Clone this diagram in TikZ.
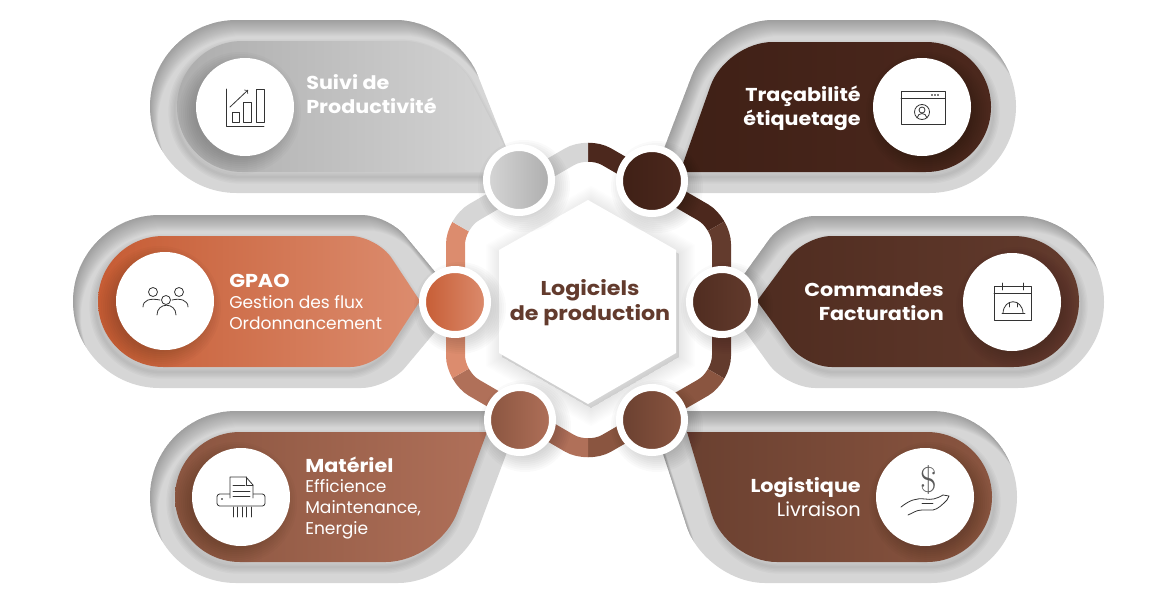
\documentclass[tikz,border=0pt]{standalone}
\usepackage{fontspec}
\newfontfamily\cardfont{Poppins}
\newfontfamily\cardbold[BoldFeatures={FakeStretch=1.11}]{Poppins}
\definecolor{cardgrey}{HTML}{D6D6D6}
\definecolor{greydark}{HTML}{ADADAD}
\definecolor{cocoa}{HTML}{3F2016}
\definecolor{cocoalt}{HTML}{4C281D}
\definecolor{umber}{HTML}{4F2C20}
\definecolor{umberlt}{HTML}{633B2D}
\definecolor{sienna}{HTML}{6A4030}
\definecolor{siennalt}{HTML}{8A5540}
\definecolor{clay}{HTML}{8A5540}
\definecolor{claylt}{HTML}{B07059}
\definecolor{rust}{HTML}{C65C34}
\definecolor{rustlt}{HTML}{DC8C6E}
\newcommand{\headline}[1]{{\cardbold\bfseries\fontsize{14}{15}\selectfont #1}}
\tikzset{
  hub/.style={circle,draw=white,line width=5.25pt,minimum size=48.75pt,inner sep=0pt,outer sep=0pt},
  badge/.style={circle,fill=white,minimum size=73.5pt,inner sep=0pt,outer sep=0pt},
  cardtext/.style={anchor=base west,text=white,inner sep=0pt,align=left,font=\cardfont\fontsize{12.8}{15.4}\selectfont},
  cardtextr/.style={anchor=base east,text=white,inner sep=0pt,align=right,font=\cardfont\fontsize{12.8}{17.6}\selectfont},
  icon/.style={line width=.6pt,draw=black!80,line cap=round,line join=round}
}
% card outlines, in pixels of the picture
\newcommand{\suiviout}{(519,180) -- (519,193) [rounded corners=64.9pt] -- (150,193) -- (150,20) [rounded corners=45pt] -- (456,20) [sharp corners] -- cycle}
\newcommand{\suiviin}{(519,172) [rounded corners=49pt] -- (177,172) -- (177,41) [rounded corners=35pt] -- (450,41) [sharp corners] -- (505,147) -- cycle}
\newcommand{\gpaoout}{(460,302) [rounded corners=20pt] -- (388,388) [rounded corners=64.9pt] -- (73,388) -- (73,215) [rounded corners=20pt] -- (388,215) [sharp corners] -- cycle}
\newcommand{\gpaoin}{(420,301) [rounded corners=20pt] -- (377,367) [rounded corners=49pt] -- (98,367) -- (98,236) [rounded corners=20pt] -- (377,236) [sharp corners] -- cycle}
\newcommand{\materielout}{(519,420) [rounded corners=45pt] -- (458,583) [rounded corners=64.5pt] -- (150,583) -- (150,411) [sharp corners] -- (519,411) -- cycle}
\newcommand{\materielin}{(487,432) [rounded corners=40pt] -- (439,562) [rounded corners=48.75pt] -- (175,562) -- (175,432) [sharp corners] -- cycle}
\newcommand{\tracaout}{(652,180) [rounded corners=45pt] -- (713,20) [rounded corners=64.9pt] -- (1016,20) -- (1016,193) [sharp corners] -- (652,193) -- cycle}
\newcommand{\tracain}{(680,172) [rounded corners=35pt] -- (726,42) [rounded corners=48.75pt] -- (991,42) -- (991,172) [sharp corners] -- cycle}
\newcommand{\commandeout}{(724,302) [rounded corners=22pt] -- (786,216) [rounded corners=64.5pt] -- (1104,216) -- (1104,388) [rounded corners=22pt] -- (786,388) [sharp corners] -- cycle}
\newcommand{\commandein}{(757,301) [rounded corners=20pt] -- (805,236) [rounded corners=49pt] -- (1079,236) -- (1079,367) [rounded corners=20pt] -- (805,367) [sharp corners] -- cycle}
\newcommand{\logistout}{(652,420) -- (652,411) [rounded corners=64.5pt] -- (1017,411) -- (1017,583) [rounded corners=45pt] -- (705,583) [sharp corners] -- cycle}
\newcommand{\logistin}{(687,432) [rounded corners=48.75pt] -- (992,432) -- (992,562) [rounded corners=38pt] -- (726,562) [sharp corners] -- cycle}
\newcommand{\hexband}{[rounded corners=16pt] (588,146) -- (721.5,223) -- (721.5,377) -- (588,454) -- (455.5,377) -- (455.5,223) -- cycle}
\newcommand{\hexcore}{(588,200) -- (676,250) -- (676,353) -- (588,404) -- (499,353) -- (499,250) -- cycle}
% outer outline, inner outline, shading, shift of the shadow
\newcommand{\softcard}[4]{%
  \fill[cardgrey] #1;
  \begin{scope}
    \clip #1;
    \foreach \k in {1,...,16}{\fill[black,opacity=.015,even odd rule,shift={(\k*.5,\k)}] (-400,-400) rectangle (1600,1000) #1;}
    \foreach \w in {2,4,...,10}{\draw[black,opacity=.025,line width=\w pt,shift={#4}] #2;}
  \end{scope}
  \shade[#3] #2;
}
\newcommand{\softdisc}[3]{%
  \foreach \k in {0,2,...,16}{\fill[black,opacity=.02,shift={#3}] #1 circle[radius=#2+\k];}
}
\begin{document}
\begin{tikzpicture}[x=.75pt,y=-.75pt]
\useasboundingbox (0,0) rectangle (1149,596);
%================================================================
%	Cards
\softcard{\suiviout}{\suiviin}{left color=greydark,right color=cardgrey}{(-2,5)}
\softcard{\gpaoout}{\gpaoin}{left color=rust,right color=rustlt}{(-2,5)}
\softcard{\materielout}{\materielin}{left color=clay,right color=claylt}{(-2,5)}
\softcard{\tracaout}{\tracain}{left color=cocoa,right color=cocoalt}{(2,5)}
\softcard{\commandeout}{\commandein}{left color=umber,right color=umberlt}{(2,5)}
\softcard{\logistout}{\logistin}{left color=sienna,right color=siennalt}{(2,5)}
%================================================================
%	Badges
\softdisc{(245,107)}{45}{(-5,6)}
\softdisc{(165,301)}{45}{(-5,6)}
\softdisc{(241,497)}{45}{(-5,6)}
\softdisc{(922,107)}{45}{(5,6)}
\softdisc{(1012,302)}{45}{(5,6)}
\softdisc{(925,497)}{45}{(5,6)}
%----------------------------------------------------------------
\node[style=badge] (bsuivi) at (245,107) {};
\node[style=badge] (bgpao) at (165,301) {};
\node[style=badge] (bmateriel) at (241,497) {};
\node[style=badge] (btraca) at (922,107) {};
\node[style=badge] (bcommande) at (1012,302) {};
\node[style=badge] (blogist) at (925,497) {};
%================================================================
%	Icons
\draw[icon] (226,89) -- (226,126) -- (264,126);
\draw[icon] (232,112) rectangle (239,122);
\draw[icon] (243,102) rectangle (251,122);
\draw[icon] (256,89) rectangle (264,122);
\draw[icon,->] (230,107) -- (248,90);
%----------------------------------------------------------------
\draw[icon] (153,292) circle[radius=4.5];
\draw[icon] (179,292) circle[radius=4.5];
\draw[icon] (166,300) circle[radius=4.5];
\draw[icon] (143,307) .. controls (143,300) and (150,298) .. (160,300);
\draw[icon] (172,300) .. controls (180,298) and (188,300) .. (188,307);
\draw[icon] (157,315) .. controls (157,302) and (176,302) .. (176,315);
%----------------------------------------------------------------
\draw[icon,rounded corners=2pt] (217,506) -- (217,494) -- (265,494) -- (265,506) -- cycle;
\fill[white] (230,477) rectangle (253,498);
\draw[icon] (230,498) -- (230,477) -- (246,477) -- (253,485) -- (253,498);
\draw[icon] (246,477) -- (246,485) -- (253,485);
\draw[icon] (233,485) -- (245,485);
\draw[icon] (233,491) -- (250,491);
\draw[icon] (233,496) -- (250,496);
\fill[black] (222,499) circle[radius=.8];
\foreach \x in {233,237,242,246,251}
  \draw[icon] (\x,507) -- (\x,517);
%----------------------------------------------------------------
\draw[icon] (901,91) rectangle (945,124);
\draw[icon] (901,98) -- (945,98);
\foreach \x in {932,935,938}
  \fill[black] (\x,95) circle[radius=.8];
\draw[icon] (922,112) circle[radius=7.5];
\draw[icon] (922,110) circle[radius=3];
\draw[icon] (917,118) .. controls (918,112) and (926,112) .. (927,118);
%----------------------------------------------------------------
\draw[icon] (994,286) rectangle (1031,320);
\draw[icon] (994,293) -- (1031,293);
\draw[icon] (1002,283) -- (1002,290);
\draw[icon] (1023,283) -- (1023,290);
\draw[icon] (1003,313) .. controls (1004,298) and (1022,298) .. (1023,313);
\draw[icon] (1002,313) -- (1025,313);
\draw[icon] (1009,303) -- (1009,307);
\draw[icon] (1017,303) -- (1017,307);
%----------------------------------------------------------------
\node[text=black!65] (dollar) at (929,480) {\fontsize{27}{27}\selectfont\$};
\draw[icon] (901,507) .. controls (910,500) and (916,498) .. (925,499) .. controls (932,500) and (936,499) .. (943,495) -- (949,496) -- (947,500) .. controls (942,505) and (938,509) .. (933,510) -- (922,510) .. controls (916,510) and (913,513) .. (908,515);
\draw[icon] (922,503) -- (933,503);
%================================================================
%	Card texts
\node[style=cardtext,font=\cardfont\fontsize{12.8}{18}\selectfont] (tsuivi) at (306,113) {\headline{Suivi de}\\\headline{Productivité}};
\node[style=cardtext] (tgpao) at (229,329) {\headline{GPAO}\\Gestion des flux\\Ordonnancement};
\node[style=cardtext] (tmateriel) at (305,534) {\headline{Matériel}\\Efficience\\Maintenance,\\Energie};
\node[style=cardtextr] (ttraca) at (861,125) {\headline{Traçabilité}\\\headline{étiquetage}};
\node[style=cardtextr] (tcommande) at (944,320) {\headline{Commandes}\\\headline{Facturation}};
\node[style=cardtextr] (tlogist) at (861,516) {\headline{Logistique}\\{\fontsize{14.5}{15}\selectfont Livraison}};
%================================================================
%	Band
\foreach \xa/\ya/\xb/\yb/\c in {588/50/805/175/cocoalt,805/175/805/425/umberlt,805/425/588/550/siennalt,588/550/371/425/claylt,371/425/371/175/rustlt,371/175/588/50/cardgrey}{
  \begin{scope}
    \clip (588,300) -- (\xa,\ya) -- (\xb,\yb) -- cycle;
    \draw[line width=14.25pt,draw=\c] \hexband;
  \end{scope}
}
%================================================================
%	Centre
\foreach \k in {2,4,...,24}{\fill[black,opacity=.008,shift={(3,4)}] \hexcore; \draw[black,opacity=.008,line width=\k pt,shift={(3,4)}] \hexcore;}
\fill[white] \hexcore;
\node[align=center,inner sep=0pt,text=umberlt,font=\cardbold\bfseries\fontsize{15}{18.7}\selectfont] (centre) at (590,303) {Logiciels\\de production};
%================================================================
%	Hubs
\softdisc{(519,180)}{30}{(5,6)}
\softdisc{(652,181)}{30}{(5,6)}
\softdisc{(455,302)}{30}{(5,6)}
\softdisc{(722,302)}{30}{(5,6)}
\softdisc{(520,420)}{30}{(5,6)}
\softdisc{(652,420)}{30}{(5,6)}
%----------------------------------------------------------------
\node[style=hub,left color=cardgrey,right color=greydark] (hsuivi) at (519,180) {};
\node[style=hub,left color=cocoa,right color=cocoalt] (htraca) at (652,181) {};
\node[style=hub,left color=rust,right color=rustlt] (hgpao) at (455,302) {};
\node[style=hub,left color=umber,right color=umberlt] (hcommande) at (722,302) {};
\node[style=hub,left color=clay,right color=claylt] (hmateriel) at (520,420) {};
\node[style=hub,left color=sienna,right color=siennalt] (hlogist) at (652,420) {};
%================================================================
\end{tikzpicture}
\end{document}
